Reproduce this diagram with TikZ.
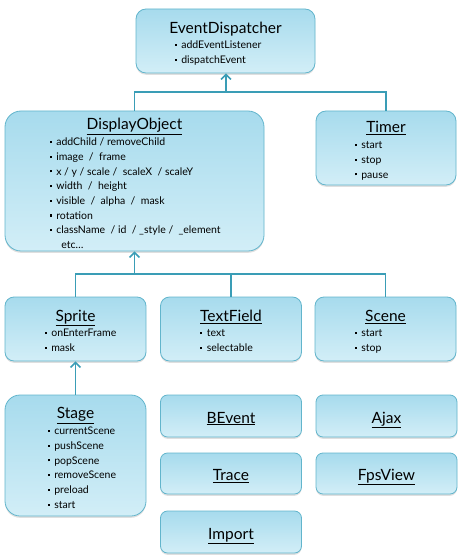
\documentclass[tikz,border=0pt]{standalone}
\usepackage{fontspec}
\setmainfont{Lato}
\usetikzlibrary{arrows.meta,shadows}

\definecolor{boxtop}{HTML}{A7DBED}
\definecolor{boxbot}{HTML}{D2EEF7}
\definecolor{boxline}{HTML}{62B5CC}
\definecolor{linkcol}{HTML}{3A9DB6}

\newcommand\bul{\makebox[6.5pt][l]{\rule[2.6pt]{2pt}{2pt}}}
\newcommand\members[1]{\begin{tabular}[t]{@{}l@{}}#1\end{tabular}}

\tikzset{
  box/.style={draw=boxline, line width=.8pt, rounded corners=9pt,
    top color=boxtop, bottom color=boxbot,
    drop shadow={opacity=.25, shadow xshift=0pt, shadow yshift=-1.8pt},
    minimum width=141pt, minimum height=64pt, inner sep=0pt},
  title/.style={font=\fontsize{15.5}{17}\selectfont, anchor=base, inner sep=0pt},
  items/.style={font=\fontsize{10.5}{14.7}\selectfont, anchor=base west, inner sep=0pt},
  link/.style={draw=linkcol, line width=1.5pt},
  isa/.style={link, -{Straight Barb[length=5pt,width=10pt]}},
}

\begin{document}
\begin{tikzpicture}[x=1pt,y=-1pt]
  \useasboundingbox (0,0) rectangle (461,559);

  % first level
  \node[box, minimum width=179pt, rounded corners=10pt] (dispatcher) at (225.5,41) {};
  \node[title] (dispatcherT) at ([shift={(0,25)}]dispatcher.north) {EventDispatcher};
  \node[items] (dispatcherL) at ([shift={(39,40)}]dispatcher.north west)
    {\members{\bul addEventListener\\ \bul dispatchEvent}};

  % second level
  \node[box, minimum width=259pt, minimum height=140pt, rounded corners=16pt] (dobj) at (134.5,181) {};
  \node[title] (dobjT) at ([shift={(0,19)}]dobj.north) {\underline{DisplayObject}};
  \node[items] (dobjL) at ([shift={(45,35)}]dobj.north west)
    {\members{\bul addChild / removeChild\\
      \bul image \ / \ frame\\
      \bul x / y / scale / \ scaleX \ / scaleY\\
      \bul width \ / \ height\\
      \bul visible \ / \ alpha \ / \ mask\\
      \bul rotation\\
      \bul className \ / id \ / \_style / \ \_element\\
      \hspace*{11.5pt}etc…}};

  \node[box, minimum width=140pt, minimum height=74pt, rounded corners=10pt] (timer) at (386,148) {};
  \node[title] (timerT) at ([shift={(0,22)}]timer.north) {\underline{Timer}};
  \node[items] (timerL) at ([shift={(39,38)}]timer.north west)
    {\members{\bul start\\ \bul stop\\ \bul pause}};

  % third level
  \node[box] (sprite) at (75.5,329) {};
  \node[title] (spriteT) at ([shift={(0,25)}]sprite.north) {\underline{Sprite}};
  \node[items] (spriteL) at ([shift={(40,40)}]sprite.north west)
    {\members{\bul onEnterFrame\\ \bul mask}};

  \node[box] (text) at (231,329) {};
  \node[title] (textT) at ([shift={(0,25)}]text.north) {\underline{TextField}};
  \node[items] (textL) at ([shift={(40,40)}]text.north west)
    {\members{\bul text\\ \bul selectable}};

  \node[box] (scene) at (385.5,329) {};
  \node[title] (sceneT) at ([shift={(0,25)}]scene.north) {\underline{Scene}};
  \node[items] (sceneL) at ([shift={(40,40)}]scene.north west)
    {\members{\bul start\\ \bul stop}};

  % stage and the rest
  \node[box, minimum height=121pt, rounded corners=15pt] (stage) at (75.5,455.5) {};
  \node[title] (stageT) at ([shift={(0,24)}]stage.north) {\underline{Stage}};
  \node[items] (stageL) at ([shift={(43,40)}]stage.north west)
    {\members{\bul currentScene\\ \bul pushScene\\ \bul popScene\\
      \bul removeScene\\ \bul preload\\ \bul start}};

  \node[box, minimum height=42pt, rounded corners=7pt] (bevent) at (231,416) {};
  \node[title] (beventT) at ([shift={(0,7)}]bevent.center) {\underline{BEvent}};
  \node[box, minimum height=42pt, rounded corners=7pt] (ajax) at (386.5,416) {};
  \node[title] (ajaxT) at ([shift={(0,7)}]ajax.center) {\underline{Ajax}};
  \node[box, minimum height=41pt, rounded corners=7pt] (trace) at (231,473.5) {};
  \node[title] (traceT) at ([shift={(0,7)}]trace.center) {\underline{Trace}};
  \node[box, minimum height=41pt, rounded corners=7pt] (fps) at (386.5,473.5) {};
  \node[title] (fpsT) at ([shift={(0,7)}]fps.center) {\underline{FpsView}};
  \node[box, minimum height=42pt, rounded corners=7pt] (import) at (231,532) {};
  \node[title] (importT) at ([shift={(0,7)}]import.center) {\underline{Import}};

  % inheritance
  \coordinate (j1) at (226,92);
  \draw[isa] (j1) -- (j1 |- dispatcher.south);
  \draw[link] (dobj.north) |- (j1) -| (timer.north);

  \coordinate (j2) at (134.5,274);
  \draw[isa] (j2) -- (dobj.south);
  \draw[link] (sprite.north) |- (j2) -| (scene.north);
  \draw[link] (text.north) -- (text.north |- j2);

  \draw[isa] (stage.north) -- (sprite.south);
\end{tikzpicture}
\end{document}
